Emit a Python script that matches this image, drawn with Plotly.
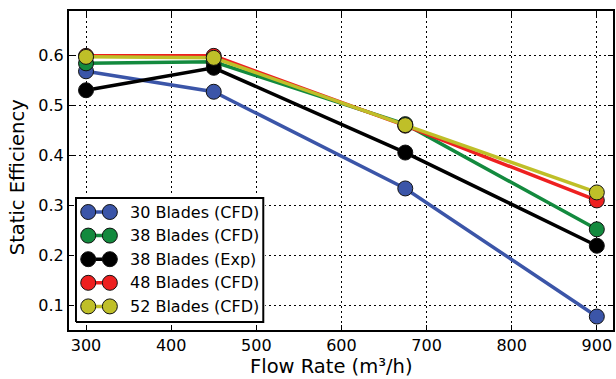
import plotly.graph_objects as go

flow_rate = [300, 450, 675, 900]
series_names = ["30 Blades (CFD)", "38 Blades (CFD)", "38 Blades (Exp)", "48 Blades (CFD)", "52 Blades (CFD)"]
eff_30_cfd = [0.569, 0.528, 0.334, 0.077]
eff_38_cfd = [0.585, 0.588, 0.463, 0.252]
eff_38_exp = [0.531, 0.576, 0.406, 0.219]
eff_48_cfd = [0.600, 0.600, 0.460, 0.310]
eff_52_cfd = [0.598, 0.596, 0.461, 0.326]
series_values = [eff_30_cfd, eff_38_cfd, eff_38_exp, eff_48_cfd, eff_52_cfd]
colors = ["#3b55a8", "#138a3e", "#000000", "#ee2020", "#bfbf28"]

x_ticks = [300, 400, 500, 600, 700, 800, 900]
y_ticks = [0.1, 0.2, 0.3, 0.4, 0.5, 0.6]

# plot-area geometry in pixels
W, H = 616, 379
ML, MR, MT, MB = 69, 1, 11, 49
PW, PH = W - ML - MR, H - MT - MB

fig = go.Figure()
for name, vals, col in zip(series_names, series_values, colors):
    fig.add_trace(go.Scatter(
        x=flow_rate, y=vals, name=name, mode="lines+markers",
        line=dict(color=col, width=3.5),
        marker=dict(color=col, size=15, line=dict(color="#111111", width=1)),
        showlegend=False,
    ))

# ---- custom legend (matplotlib style: two markers joined by a line) ----
box_w, box_h = 188, 124
box_left_px, box_bottom_px = 7, 8
pad = 2
x2_dom = [(box_left_px - pad) / PW, (box_left_px + box_w + pad) / PW]
y2_dom = [(box_bottom_px - pad) / PH, (box_bottom_px + box_h + pad) / PH]

fig.add_trace(go.Scatter(
    x=[0, box_w, box_w, 0, 0], y=[0, 0, box_h, box_h, 0],
    mode="lines", fill="toself", fillcolor="white",
    line=dict(color="black", width=2),
    xaxis="x2", yaxis="y2", showlegend=False, hoverinfo="skip",
))
row_top, row_step = 14, 23.6
for i, (name, col) in enumerate(zip(series_names, colors)):
    yy = box_h - (row_top + i * row_step)
    fig.add_trace(go.Scatter(
        x=[12.3, 34], y=[yy, yy], mode="lines+markers",
        line=dict(color=col, width=3.5),
        marker=dict(color=col, size=15, line=dict(color="#111111", width=1)),
        xaxis="x2", yaxis="y2", showlegend=False, hoverinfo="skip",
    ))
    fig.add_annotation(
        x=52, y=yy, xref="x2", yref="y2", text=name, showarrow=False,
        xanchor="left", yanchor="middle",
        font=dict(family="DejaVu Sans", size=16, color="black"),
    )

axis_common = dict(
    showline=True, linecolor="black", linewidth=2, mirror="ticks",
    ticks="inside", ticklen=5, tickcolor="black", tickwidth=1,
    showgrid=True, gridcolor="black", griddash="2px,3px", gridwidth=1.2,
    zeroline=False,
    tickfont=dict(family="DejaVu Sans", size=16, color="black"),
)

fig.update_layout(
    width=W, height=H,
    margin=dict(l=ML, r=MR, t=MT, b=MB),
    paper_bgcolor="white", plot_bgcolor="white",
    xaxis=dict(range=[280, 919], tickvals=x_ticks, ticktext=[str(v) for v in x_ticks],
               **axis_common),
    yaxis=dict(range=[0.05, 0.69], tickvals=y_ticks, ticktext=[f"{v:.1f}" for v in y_ticks],
               **axis_common),
    xaxis2=dict(domain=x2_dom, range=[-pad, box_w + pad], visible=False, fixedrange=True,
                anchor="y2"),
    yaxis2=dict(domain=y2_dom, range=[-pad, box_h + pad], visible=False, fixedrange=True,
                anchor="x2"),
    showlegend=False,
)

# axis titles
fig.add_annotation(
    x=(332 - ML) / PW, y=-MB / PH, xref="paper", yref="paper",
    text="Flow Rate (m³/h)", showarrow=False, xanchor="center", yanchor="bottom",
    borderpad=0,
    font=dict(family="DejaVu Sans", size=19.5, color="black"),
)
fig.add_annotation(
    x=0, y=(H - MB - 177.5) / PH, xref="paper", yref="paper", xshift=17.7 - ML,
    text="Static Efficiency", showarrow=False, textangle=-90,
    xanchor="center", yanchor="middle",
    font=dict(family="DejaVu Sans", size=19.5, color="black"),
)

fig.write_html("out.html")
